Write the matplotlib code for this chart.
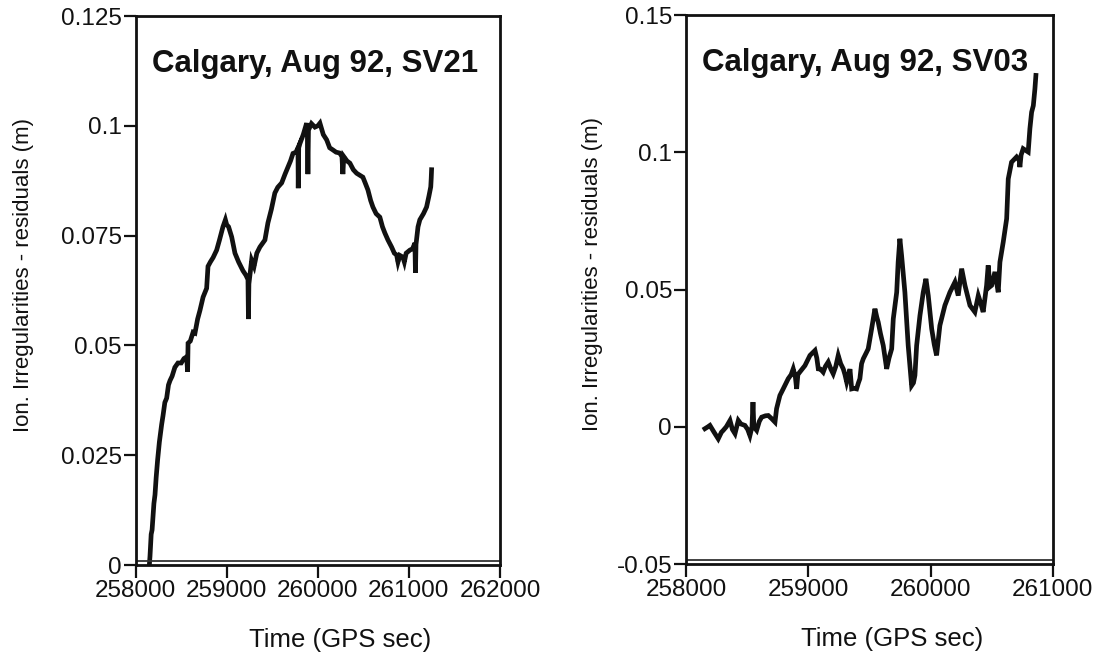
import matplotlib
matplotlib.use("Agg")
import matplotlib.pyplot as plt
from matplotlib.lines import Line2D

plt.rcParams["font.family"] = ["Liberation Sans", "DejaVu Sans"]

# SV21 ionospheric irregularity residuals (GPS seconds, metres)
sv21_time = [258150, 258157, 258170, 258180, 258200, 258212, 258225, 258241, 258260,
             258285, 258300, 258320, 258340, 258360, 258377, 258400, 258430, 258464,
             258500, 258530, 258560, 258570, 258575, 258600, 258630, 258651, 258680,
             258706, 258740, 258779, 258794, 258820, 258850, 258889, 258920, 258958,
             258985, 258999, 259020, 259054, 259090, 259130, 259178, 259210, 259233,
             259238, 259243, 259260, 259273, 259300, 259330, 259364, 259419, 259452,
             259490, 259528, 259560, 259603, 259640, 259672, 259700, 259727, 259760,
             259782, 259785, 259790, 259804, 259840, 259877, 259885, 259891, 259897,
             259930, 259968, 260000, 260023, 260060, 260097, 260130, 260166, 260200,
             260240, 260265, 260275, 260285, 260320, 260352, 260390, 260426, 260495,
             260520, 260550, 260580, 260605, 260640, 260681, 260710, 260736, 260770,
             260810, 260840, 260865, 260880, 260900, 260934, 260950, 260970, 261011,
             261040, 261066, 261072, 261078, 261100, 261120, 261160, 261194, 261220,
             261240, 261245, 261249]
sv21_resid = [0.000, 0.002, 0.007, 0.008, 0.014, 0.016, 0.020, 0.024, 0.028,
              0.032, 0.034, 0.037, 0.038, 0.041, 0.042, 0.043, 0.045, 0.046,
              0.046, 0.047, 0.0474, 0.044, 0.0505, 0.051, 0.053, 0.0528, 0.056,
              0.058, 0.061, 0.063, 0.068, 0.069, 0.070, 0.0717, 0.074, 0.077,
              0.0786, 0.0775, 0.077, 0.0747, 0.071, 0.069, 0.067, 0.066, 0.065,
              0.056, 0.064, 0.067, 0.0694, 0.068, 0.071, 0.0724, 0.074, 0.0779,
              0.081, 0.0847, 0.086, 0.087, 0.089, 0.0906, 0.092, 0.0937, 0.094,
              0.095, 0.0858, 0.095, 0.096, 0.098, 0.1006, 0.099, 0.089, 0.099,
              0.1005, 0.0997, 0.100, 0.1006, 0.098, 0.0968, 0.095, 0.0945, 0.094,
              0.0938, 0.093, 0.089, 0.093, 0.092, 0.0915, 0.090, 0.0892, 0.0883,
              0.087, 0.0854, 0.083, 0.0815, 0.080, 0.0792, 0.077, 0.0756, 0.074,
              0.0724, 0.071, 0.0706, 0.069, 0.0705, 0.0701, 0.069, 0.071, 0.0717,
              0.072, 0.0733, 0.0665, 0.073, 0.077, 0.0786, 0.080, 0.0815, 0.084,
              0.0861, 0.088, 0.090]

# SV03 ionospheric irregularity residuals (GPS seconds, metres)
sv03_time = [258155, 258180, 258196, 258230, 258264, 258290, 258305, 258330, 258360,
             258380, 258401, 258428, 258450, 258482, 258505, 258523, 258540, 258548,
             258555, 258578, 258600, 258619, 258650, 258673, 258700, 258728, 258741,
             258768, 258795, 258836, 258860, 258877, 258895, 258905, 258915, 258932,
             258973, 259014, 259055, 259070, 259082, 259100, 259122, 259140, 259163,
             259185, 259204, 259225, 259245, 259265, 259286, 259300, 259314, 259330,
             259341, 259355, 259375, 259395, 259410, 259422, 259436, 259450, 259477,
             259490, 259518, 259545, 259560, 259572, 259590, 259613, 259641, 259660,
             259682, 259695, 259723, 259735, 259749, 259763, 259790, 259817, 259845,
             259860, 259872, 259886, 259913, 259940, 259962, 259981, 260009, 260030,
             260049, 260076, 260117, 260158, 260199, 260226, 260254, 260281, 260322,
             260362, 260390, 260410, 260430, 260458, 260471, 260485, 260499, 260526,
             260553, 260567, 260594, 260622, 260635, 260662, 260703, 260725, 260730,
             260740, 260757, 260798, 260812, 260826, 260840, 260853, 260861]
sv03_resid = [-0.0007, 0.000, 0.0005, -0.002, -0.0044, -0.002, -0.0013, 0.000, 0.0023,
              -0.001, -0.0025, 0.0023, 0.001, 0.0005, -0.001, -0.0032, 0.000, 0.009,
              0.000, -0.0013, 0.002, 0.0035, 0.004, 0.0041, 0.003, 0.0017, 0.0066,
              0.0114, 0.0138, 0.0175, 0.019, 0.0211, 0.018, 0.0138, 0.019, 0.020,
              0.0223, 0.026, 0.0278, 0.025, 0.0211, 0.021, 0.0199, 0.022, 0.0236,
              0.021, 0.0193, 0.022, 0.026, 0.023, 0.0211, 0.019, 0.0163, 0.019,
              0.021, 0.0138, 0.014, 0.0138, 0.016, 0.0175, 0.023, 0.0248, 0.0272,
              0.0284, 0.0357, 0.043, 0.040, 0.0381, 0.034, 0.0296, 0.0211, 0.025,
              0.0284, 0.0393, 0.049, 0.060, 0.0685, 0.0624, 0.049, 0.0296, 0.015,
              0.016, 0.0187, 0.0296, 0.0405, 0.049, 0.0539, 0.0478, 0.0357, 0.030,
              0.026, 0.0369, 0.0442, 0.049, 0.0527, 0.0478, 0.0576, 0.0515, 0.0442,
              0.0418, 0.0478, 0.045, 0.0418, 0.0515, 0.0588, 0.051, 0.0515, 0.0564,
              0.049, 0.060, 0.0673, 0.0758, 0.0903, 0.0964, 0.0983, 0.097, 0.0946,
              0.099, 0.1013, 0.1001, 0.1086, 0.1146, 0.117, 0.1231, 0.128]

left_xticks = [258000, 259000, 260000, 261000, 262000]
left_xlabels = ["258000", "259000", "260000", "261000", "262000"]
left_yticks = [0, 0.025, 0.05, 0.075, 0.1, 0.125]
left_ylabels = ["0", "0.025", "0.05", "0.075", "0.1", "0.125"]

right_xticks = [258000, 259000, 260000, 261000]
right_xlabels = ["258000", "259000", "260000", "261000"]
right_yticks = [-0.05, 0, 0.05, 0.1, 0.15]
right_ylabels = ["-0.05", "0", "0.05", "0.1", "0.15"]

titles = ["Calgary, Aug 92, SV21", "Calgary, Aug 92, SV03"]
x_title = "Time (GPS sec)"
y_title = "Ion. Irregularities - residuals (m)"

fig = plt.figure(figsize=(11.15, 6.56), dpi=100)
ax1 = fig.add_axes([0.1217, 0.1387, 0.3267, 0.8369])
ax2 = fig.add_axes([0.6152, 0.1402, 0.3291, 0.8369])


def style_panel(ax, t, r, xticks, xlabels, yticks, ylabels, xlim, ylim, title,
                ylab_x):
    ax.plot(t, r, color="#111111", lw=3.4, solid_joinstyle="miter")
    ax.set_xlim(*xlim)
    ax.set_ylim(*ylim)
    ax.set_xticks(xticks)
    ax.set_xticklabels(xlabels)
    ax.set_yticks(yticks)
    ax.set_yticklabels(ylabels)
    ax.tick_params(axis="both", direction="out", length=9, width=1.6,
                   labelsize=17.5, pad=1, color="#111111", labelcolor="#111111")
    ax.tick_params(axis="x", pad=2)
    for sp in ax.spines.values():
        sp.set_linewidth(2.0)
        sp.set_color("#111111")
    # inner frame line just above the x axis
    ax.add_line(Line2D([0, 1], [0.008, 0.008], transform=ax.transAxes,
                       color="#333333", lw=1.3))
    ax.text(0.045, 0.898, title, transform=ax.transAxes, fontsize=22.5,
            fontweight="bold", ha="left", va="baseline", color="#111111")
    ax.set_xlabel(x_title, fontsize=18.5, color="#111111", va="center")
    ax.xaxis.set_label_coords(0.562, -0.1366)
    ax.set_ylabel(y_title, fontsize=16, color="#111111", va="center",
                  ha="center")
    ax.yaxis.set_label_coords(ylab_x, 0.528)


style_panel(ax1, sv21_time, sv21_resid, left_xticks, left_xlabels, left_yticks,
            left_ylabels, (258000, 262000), (0, 0.125), titles[0], -0.307)
style_panel(ax2, sv03_time, sv03_resid, right_xticks, right_xlabels, right_yticks,
            right_ylabels, (258000, 261000), (-0.05, 0.15), titles[1], -0.2547)

fig.savefig("out.png", dpi=100, facecolor="white")
